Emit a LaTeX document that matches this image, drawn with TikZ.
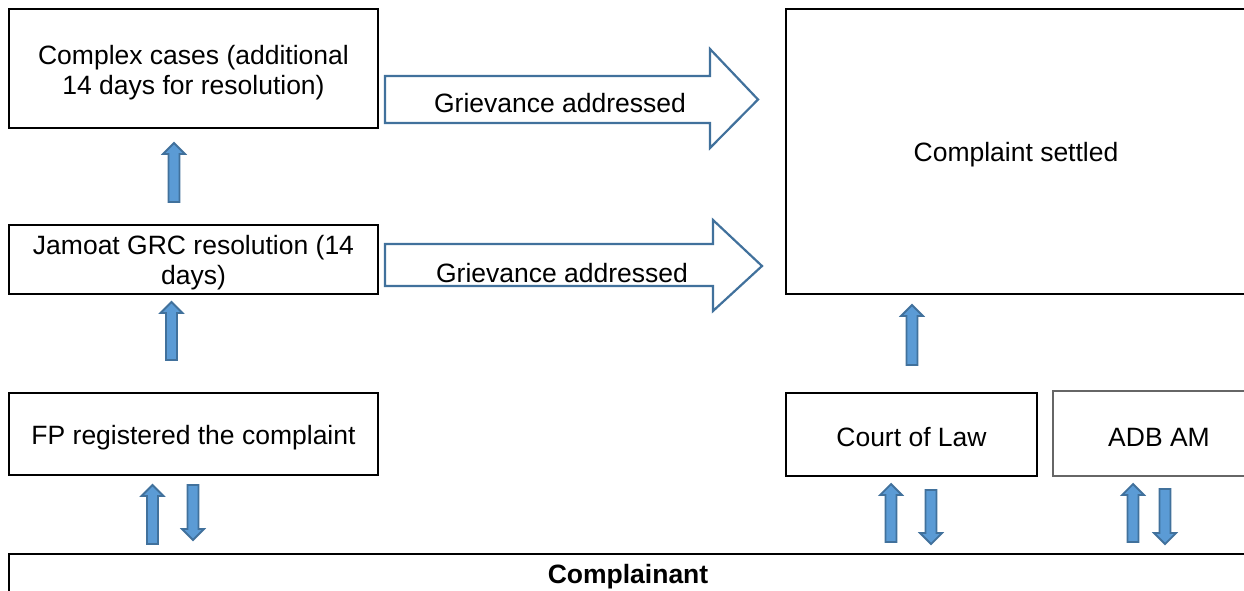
\documentclass[tikz,border=0pt]{standalone}
\usepackage{fontspec}
\setmainfont{Liberation Sans}
\definecolor{afill}{HTML}{5B9BD5}
\definecolor{aline}{HTML}{41719C}
\newcommand\myUp[3]{% x, ytip, ybottom
  \filldraw[smallarr] (#1-5.5,#3) -- (#1-5.5,#2+11) -- (#1-11,#2+11) -- (#1,#2) -- (#1+11,#2+11) -- (#1+5.5,#2+11) -- (#1+5.5,#3) -- cycle;}
\newcommand\myDown[3]{% x, ytop, ytip
  \filldraw[smallarr] (#1-5.5,#2) -- (#1-5.5,#3-11) -- (#1-11,#3-11) -- (#1,#3) -- (#1+11,#3-11) -- (#1+5.5,#3-11) -- (#1+5.5,#2) -- cycle;}
\begin{document}
\begin{tikzpicture}[x=1pt,y=-1pt,
  box/.style={draw=black,line width=2pt,fill=white},
  lbl/.style={align=center,inner sep=0pt,yshift=-2.5pt},
  bigarr/.style={draw=aline,line width=2.2pt,fill=white,line join=miter},
  smallarr/.style={draw=aline,fill=afill,line width=1.8pt,line join=miter}]
\useasboundingbox (0,0) rectangle (1244,590);
\fontsize{26.5}{30.5}\selectfont
% boxes
\draw[box] (9,9) rectangle (378,128);
\node[lbl] (complex) at (193.5,70) {Complex cases (additional\\14 days for resolution)};
\draw[box] (9,225) rectangle (378,294);
\node[lbl] (jamoat) at (193.5,260) {Jamoat GRC resolution (14\\days)};
\draw[box] (9,393) rectangle (378,475);
\node[lbl] (fp) at (193.5,435) {FP registered the complaint};
\draw[box] (786,9) rectangle (1260,294);
\node[lbl] (settled) at (1016,152) {Complaint settled};
\draw[box] (786,393) rectangle (1037,476);
\node[lbl] (court) at (911.5,435) {Court of Law};
\draw[draw=black!60,line width=1.2pt] (1053,391) rectangle (1280,476);
\node[lbl] (adb) at (1159,435) {ADB AM};
\draw[box] (9,554) rectangle (1260,640);
\node[lbl,font=\bfseries] (complainant) at (628,574) {Complainant};
% big arrows
\draw[bigarr] (385,76) -- (710,76) -- (710,49) -- (758,99.5) -- (710,148) -- (710,123) -- (385,123) -- cycle;
\node[lbl] (g1) at (560,101) {Grievance addressed};
\draw[bigarr] (385,244) -- (713,244) -- (713,220) -- (762,266) -- (713,311) -- (713,286) -- (385,286) -- cycle;
\node[lbl] (g2) at (562,271) {Grievance addressed};
% small arrows
\myUp{174}{143}{202}
\myUp{171.5}{302}{360}
\myUp{152.5}{485}{544}
\myDown{193}{485}{540}
\myUp{891}{484}{542}
\myDown{931}{490}{544}
\myUp{1133}{484}{542}
\myDown{1165}{489}{544}
\myUp{912}{305}{365}
\end{tikzpicture}
\end{document}
